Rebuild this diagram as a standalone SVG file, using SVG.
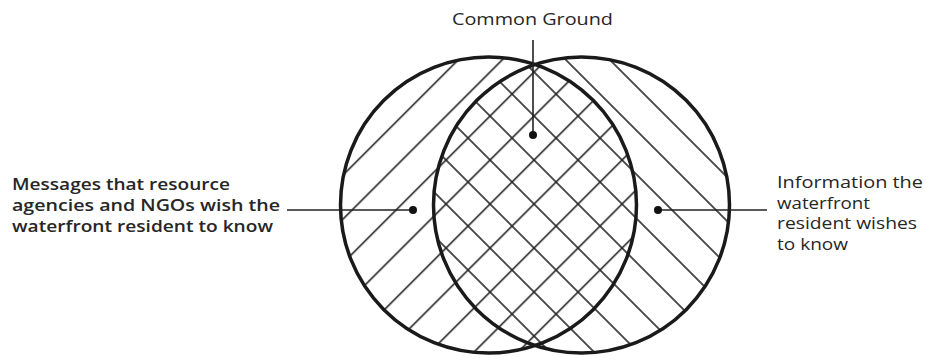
<svg xmlns="http://www.w3.org/2000/svg" width="926" height="360" viewBox="0 0 926 360">
  <style>
    .lbl { font-family: "Open Sans", "Liberation Sans", sans-serif; font-size: 17px; fill: #262626; }
    .small { font-size: 16.5px; }
    .bold { font-weight: 600; }
    .med { font-weight: 500; }
    .circle { fill: none; stroke: #1a1a1a; stroke-width: 3.5; }
    .leader { stroke: #222; stroke-width: 1.6; fill: none; }
    .dot { fill: #111; }
  </style>
  <defs>
    <pattern id="hatchFwd" patternUnits="userSpaceOnUse" width="31.113" height="31.113" patternTransform="rotate(45)">
      <line x1="24.04" y1="-2" x2="24.04" y2="34" stroke="#222" stroke-width="1.6"/>
    </pattern>
    <pattern id="hatchBack" patternUnits="userSpaceOnUse" width="31.113" height="31.113" patternTransform="rotate(-45)">
      <line x1="15.56" y1="-2" x2="15.56" y2="34" stroke="#222" stroke-width="1.6"/>
    </pattern>
  </defs>
  <rect width="926" height="360" fill="#ffffff"/>

  <g id="left-set">
    <circle cx="488.5" cy="205" r="148" fill="url(#hatchFwd)"/>
  </g>
  <g id="right-set">
    <circle cx="581.5" cy="205" r="148" fill="url(#hatchBack)"/>
  </g>
  <g id="outlines">
    <circle class="circle" cx="488.5" cy="205" r="148"/>
    <circle class="circle" cx="581.5" cy="205" r="148"/>
  </g>

  <g id="connectors">
    <line class="leader" x1="533" y1="40" x2="533" y2="135"/>
    <circle class="dot" cx="533" cy="135" r="4"/>
    <line class="leader" x1="287" y1="210" x2="413" y2="210"/>
    <circle class="dot" cx="413" cy="210" r="4"/>
    <line class="leader" x1="658" y1="210" x2="767" y2="210"/>
    <circle class="dot" cx="658" cy="210" r="4"/>
  </g>

  <g id="label-common">
    <text class="lbl med" x="452" y="25" textLength="161" lengthAdjust="spacingAndGlyphs">Common Ground</text>
  </g>
  <g id="label-left">
    <text class="lbl bold" x="12" y="190" textLength="218" lengthAdjust="spacingAndGlyphs">Messages that resource</text>
    <text class="lbl bold" x="12" y="211" textLength="268" lengthAdjust="spacingAndGlyphs">agencies and NGOs wish the</text>
    <text class="lbl bold" x="12" y="232" textLength="261" lengthAdjust="spacingAndGlyphs">waterfront resident to know</text>
  </g>
  <g id="label-right">
    <text class="lbl small med" x="777" y="188" textLength="146" lengthAdjust="spacingAndGlyphs">Information the</text>
    <text class="lbl small med" x="777" y="208.7" textLength="93" lengthAdjust="spacingAndGlyphs">waterfront</text>
    <text class="lbl small med" x="777" y="229.4" textLength="140" lengthAdjust="spacingAndGlyphs">resident wishes</text>
    <text class="lbl small med" x="777" y="250" textLength="71" lengthAdjust="spacingAndGlyphs">to know</text>
  </g>
</svg>
